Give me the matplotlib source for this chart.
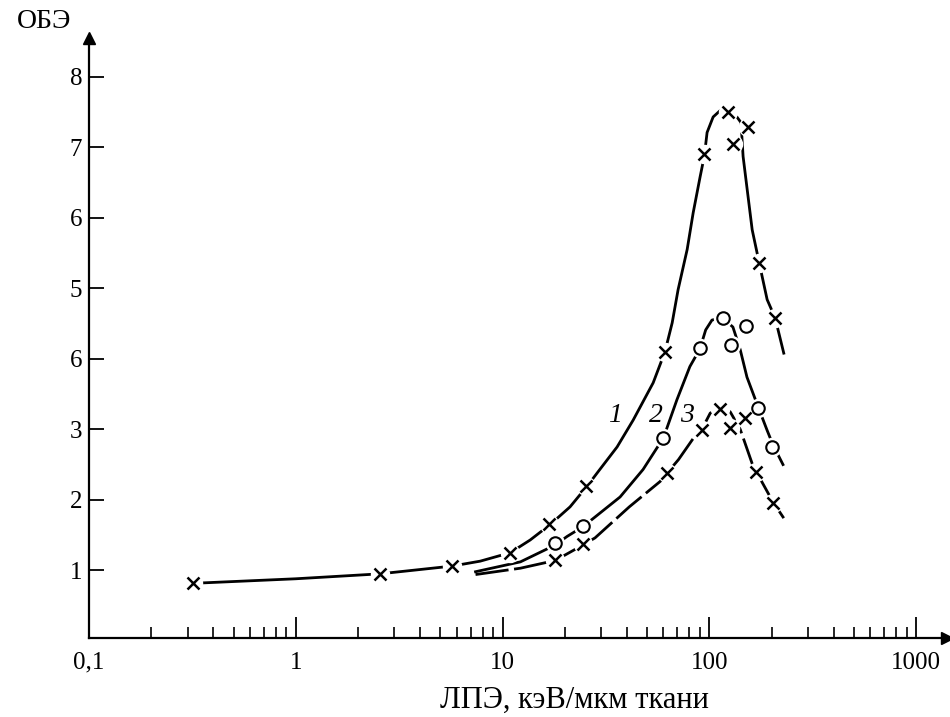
import matplotlib
matplotlib.use('Agg')
import matplotlib.pyplot as plt

plt.rcParams['font.family'] = ['Liberation Serif', 'DejaVu Serif']

# smooth curves
curve1_x = [0.345, 1, 2.55, 5.7, 7.8, 10.9, 13.6, 17.0, 21.2, 25.9, 29.0, 35.8, 42.8, 53.5, 61, 66.1,
            70.6, 78.1, 83.5, 90.2, 94.6, 97.5, 104.3, 112.7, 123.1, 135.9, 142.3, 145.6, 152.4, 161.1,
            174.2, 190.3, 208, 229]
curve1_y = [0.82, 0.88, 0.95, 1.06, 1.13, 1.25, 1.43, 1.65, 1.90, 2.21, 2.40, 2.75, 3.13, 3.66, 4.1, 4.51,
            4.98, 5.55, 6.07, 6.58, 6.88, 7.21, 7.43, 7.52, 7.52, 7.43, 7.35, 6.87, 6.40, 5.83,
            5.36, 4.84, 4.58, 4.08]

curve2_x = [7.4, 12.2, 18, 20.5, 24.5, 37, 47.8, 60, 69.7, 80.5, 90, 96, 103, 116, 130, 141, 152, 172, 190, 203, 227]
curve2_y = [0.98, 1.12, 1.36, 1.48, 1.62, 2.04, 2.43, 2.88, 3.42, 3.89, 4.14, 4.41, 4.55, 4.58, 4.45, 4.13, 3.74, 3.32, 2.99, 2.78, 2.5]

curve3_x = [7.4, 12.2, 18, 24.5, 28, 41, 57.8, 62.5, 70.9, 87.3, 92, 101, 113, 126, 141, 163, 170, 203, 229]
curve3_y = [0.94, 1.03, 1.14, 1.36, 1.46, 1.9, 2.26, 2.38, 2.57, 2.95, 3.0, 3.23, 3.3, 3.25, 3.0, 2.47, 2.38, 1.97, 1.74]

# measured points
pts1_x = [0.32, 2.55, 5.7, 10.9, 16.8, 25.4, 61, 94, 123, 130, 154, 174, 208]
pts1_y = [0.82, 0.95, 1.06, 1.25, 1.65, 2.2, 4.1, 6.9, 7.5, 7.04, 7.29, 5.36, 4.58]

pts2_x = [18, 24.5, 60, 90, 116, 127, 151, 172, 201]
pts2_y = [1.39, 1.63, 2.87, 4.16, 4.58, 4.2, 4.47, 3.3, 2.75]

pts3_x = [18, 24.5, 62.5, 92, 113, 126, 149, 168, 203]
pts3_y = [1.14, 1.37, 2.38, 2.99, 3.29, 3.02, 3.16, 2.4, 1.96]

curve_labels = ['1', '2', '3']
label_x = [35, 55, 78]
label_y = [3.2, 3.2, 3.2]

x_ticks = [0.1, 1, 10, 100, 1000]
x_ticklabels = ['0,1', '1', '10', '100', '1000']
y_ticks = [1, 2, 3, 4, 5, 6, 7, 8]
y_ticklabels = ['1', '2', '3', '6', '5', '6', '7', '8']

fig = plt.figure(figsize=(9.5, 7.17), dpi=100)
ax = fig.add_axes([89 / 950, 79 / 717, 858 / 950, 600 / 717])

lw = 2.0
ax.plot(curve1_x, curve1_y, color='black', lw=lw, zorder=2)
ax.plot(curve2_x, curve2_y, color='black', lw=lw, zorder=2)
ax.plot(curve3_x, curve3_y, color='black', lw=lw, dashes=(12, 2), zorder=2)

# white halo under every point -> the gap in the line around the marker
for xs, ys in [(pts1_x, pts1_y), (pts2_x, pts2_y), (pts3_x, pts3_y)]:
    ax.plot(xs, ys, ls='none', marker='o', ms=14, mfc='white', mec='none', zorder=3)

ax.plot(pts1_x, pts1_y, ls='none', marker='x', ms=9, mew=1.8, color='black', zorder=4)
ax.plot(pts2_x, pts2_y, ls='none', marker='o', ms=9, mew=1.5, mfc='white', mec='black', zorder=4)
ax.plot(pts3_x, pts3_y, ls='none', marker='x', ms=9, mew=1.8, color='black', zorder=4)

for t, lx, ly in zip(curve_labels, label_x, label_y):
    ax.text(lx, ly, t, fontsize=20, style='italic', ha='center', va='center')

ax.set_xscale('log')
ax.set_xlim(0.1, 1410)
ax.set_ylim(0.04, 8.55)
ax.set_xticks(x_ticks)
ax.set_xticklabels(x_ticklabels)
ax.set_yticks(y_ticks)
ax.set_yticklabels(y_ticklabels)

ax.spines['top'].set_visible(False)
ax.spines['right'].set_visible(False)
ax.spines['left'].set_linewidth(1.6)
ax.spines['bottom'].set_linewidth(1.6)

ax.tick_params(axis='both', which='major', direction='in', labelsize=18, width=1.3, color='black')
ax.tick_params(axis='x', which='major', length=15, pad=10)
ax.tick_params(axis='x', which='minor', direction='in', length=8, width=1.2)
ax.tick_params(axis='y', which='major', length=11, pad=5)

# arrow heads on the axes
ax.plot([0], [1], marker='^', ms=9, color='black', transform=ax.transAxes, clip_on=False)
ax.plot([1], [0], marker='>', ms=9, color='black', transform=ax.transAxes, clip_on=False)

fig.text(44 / 950, 1 - 22 / 717, 'ОБЭ', fontsize=20, ha='center', va='center')
fig.text(574 / 950, 1 - 700 / 717, 'ЛПЭ, кэВ/мкм ткани', fontsize=22, ha='center', va='center')

fig.savefig('out.png', dpi=100, facecolor='white')
